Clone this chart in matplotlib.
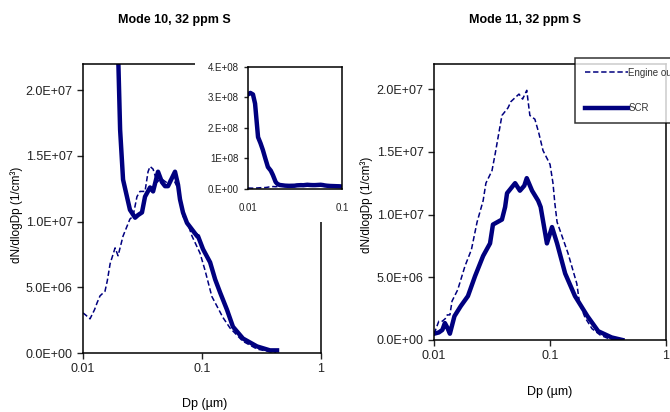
import matplotlib.pyplot as plt
from matplotlib.patches import Rectangle
from matplotlib.ticker import FixedLocator, FixedFormatter, FuncFormatter, NullLocator

plt.rcParams['font.family'] = ['Liberation Sans', 'DejaVu Sans']

# Mode 10 - engine out (dashed)
m10_eng_dp = [0.01, 0.0105, 0.01145, 0.0125, 0.0131, 0.0139, 0.0153, 0.016, 0.0169, 0.0186,
              0.0197, 0.0217, 0.0248, 0.0263, 0.0284, 0.0301, 0.0332, 0.0352, 0.0366, 0.0388,
              0.042, 0.045, 0.05, 0.057, 0.063, 0.0666, 0.0692, 0.0748, 0.0824, 0.0962,
              0.106, 0.121, 0.150, 0.172, 0.22, 0.29, 0.37, 0.42]
m10_eng = [3.05e6, 2.9e6, 2.6e6, 3.3e6, 3.8e6, 4.35e6, 4.7e6, 5.5e6, 6.8e6, 8.0e6,
           7.4e6, 8.9e6, 10.2e6, 10.4e6, 11.9e6, 12.3e6, 12.3e6, 13.8e6, 14.2e6, 14.0e6,
           13.0e6, 13.3e6, 13.0e6, 13.3e6, 12.5e6, 11.5e6, 10.4e6, 10.0e6, 8.9e6, 7.6e6,
           6.3e6, 4.3e6, 2.7e6, 1.9e6, 0.9e6, 0.3e6, 0.1e6, 0.0]

# Mode 10 - SCR (solid), large values at small Dp shown in the inset
m10_scr_dp = [0.01, 0.0106, 0.0113, 0.0119, 0.0128, 0.0136, 0.0144, 0.0153, 0.0163, 0.0175,
              0.0184, 0.0197, 0.0205, 0.0217, 0.0248, 0.0274, 0.029, 0.0313, 0.0332, 0.0366,
              0.0388, 0.0427, 0.0461, 0.0489, 0.0518, 0.0593, 0.0629, 0.0653, 0.0692, 0.0748,
              0.0793, 0.0908, 0.0925, 0.102, 0.117, 0.129, 0.142, 0.162, 0.182, 0.221,
              0.29, 0.373, 0.427]
m10_scr = [3.1e8, 3.15e8, 3.1e8, 2.8e8, 1.7e8, 1.5e8, 1.28e8, 1.0e8, 0.72e8, 0.6e8,
           0.46e8, 2.3e7, 1.7e7, 1.32e7, 1.09e7, 1.03e7, 1.05e7, 1.07e7, 1.19e7, 1.26e7,
           1.23e7, 1.38e7, 1.30e7, 1.27e7, 1.27e7, 1.38e7, 1.28e7, 1.17e7, 1.07e7, 0.99e7,
           0.96e7, 0.89e7, 0.89e7, 0.79e7, 0.69e7, 0.56e7, 0.46e7, 0.33e7, 0.2e7, 0.11e7,
           0.05e7, 0.02e7, 0.02e7]

# Mode 11 - engine out (dashed)
m11_eng_dp = [0.01, 0.0105, 0.011, 0.0118, 0.0125, 0.013, 0.0137, 0.0143, 0.016, 0.0185,
              0.021, 0.0235, 0.0265, 0.028, 0.0316, 0.0336, 0.0385, 0.0434, 0.046, 0.0498,
              0.054, 0.058, 0.063, 0.067, 0.074, 0.08, 0.087, 0.1, 0.106, 0.11,
              0.115, 0.13, 0.143, 0.17, 0.18, 0.2, 0.23, 0.27, 0.32, 0.4]
m11_eng = [0.5e6, 1.0e6, 1.5e6, 1.5e6, 1.7e6, 2.0e6, 2.0e6, 3.1e6, 4.0e6, 5.9e6,
           7.2e6, 9.4e6, 11.1e6, 12.5e6, 13.5e6, 14.8e6, 17.9e6, 18.5e6, 19.0e6, 19.3e6,
           19.6e6, 19.2e6, 19.9e6, 17.9e6, 17.6e6, 16.5e6, 15.1e6, 14.0e6, 12.5e6, 10.9e6,
           9.4e6, 8.0e6, 6.9e6, 4.5e6, 2.9e6, 1.8e6, 0.9e6, 0.4e6, 0.1e6, 0.0]

# Mode 11 - SCR (solid)
m11_scr_dp = [0.01, 0.011, 0.0118, 0.0124, 0.013, 0.0137, 0.015, 0.017, 0.0196, 0.0226,
              0.0265, 0.0304, 0.0322, 0.0385, 0.041, 0.0426, 0.05, 0.055, 0.06, 0.063,
              0.07, 0.079, 0.083, 0.094, 0.104, 0.115, 0.135, 0.164, 0.21, 0.26,
              0.34, 0.42]
m11_scr = [0.5e6, 0.6e6, 0.8e6, 1.35e6, 1.0e6, 0.5e6, 1.9e6, 2.7e6, 3.5e6, 5.1e6,
           6.7e6, 7.7e6, 9.2e6, 9.6e6, 10.6e6, 11.7e6, 12.5e6, 11.9e6, 12.3e6, 12.9e6,
           11.9e6, 11.1e6, 10.6e6, 7.7e6, 9.0e6, 7.7e6, 5.3e6, 3.5e6, 1.9e6, 0.7e6,
           0.2e6, 0.0]

x_ticks = [0.01, 0.1, 1]
x_labels = ['0.01', '0.1', '1']
y_ticks = [0, 5e6, 1e7, 1.5e7, 2e7]
inset_y_ticks = [0, 1e8, 2e8, 3e8, 4e8]
inset_y_labels = ['0.E+00', '1E+08', '2.E+08', '3.E+08', '4.E+08']

navy = '#00007f'
dash = (0, (3.5, 1.8))


def style_axes(ax, fs=9):
    ax.set_xscale('log')
    ax.xaxis.set_minor_locator(NullLocator())
    ax.tick_params(direction='out', length=4, width=1, labelsize=fs, colors='#222222')
    for s in ax.spines.values():
        s.set_linewidth(1.1)
        s.set_color('black')


fig = plt.figure(figsize=(6.7, 4.12), dpi=100)

# left chart (Mode 10)
ax1 = fig.add_axes([0.1239, 0.1432, 0.3552, 0.7015])
ax1.plot(m10_eng_dp, m10_eng, color=navy, lw=1.1, ls=dash)
ax1.plot(m10_scr_dp, m10_scr, color=navy, lw=3.2)
style_axes(ax1)
ax1.set_xlim(0.01, 1)
ax1.set_ylim(0, 2.2e7)
ax1.xaxis.set_major_locator(FixedLocator(x_ticks))
ax1.xaxis.set_major_formatter(FixedFormatter(x_labels))
ax1.yaxis.set_major_locator(FixedLocator(y_ticks))
ax1.yaxis.set_major_formatter(FuncFormatter(lambda v, p: f'{v:.1E}'))

# white chart area behind the inset
fig.patches.append(Rectangle((195 / 670, 1 - 222 / 412), 152 / 670, 165 / 412,
                             transform=fig.transFigure, facecolor='white',
                             edgecolor='none', zorder=1))

# inset
ax_in = fig.add_axes([0.3701, 0.5413, 0.1403, 0.2961])
ax_in.set_zorder(2)
ax_in.plot(m10_eng_dp, m10_eng, color=navy, lw=1.1, ls=dash)
ax_in.plot(m10_scr_dp, m10_scr, color=navy, lw=3.2)
style_axes(ax_in, fs=7)
ax_in.tick_params(length=3)
ax_in.set_xlim(0.01, 0.1)
ax_in.set_ylim(0, 4e8)
ax_in.xaxis.set_major_locator(FixedLocator([0.01, 0.1]))
ax_in.xaxis.set_major_formatter(FixedFormatter(['0.01', '0.1']))
ax_in.yaxis.set_major_locator(FixedLocator(inset_y_ticks))
ax_in.yaxis.set_major_formatter(FixedFormatter(inset_y_labels))
ax_in.tick_params(axis='x', length=0, pad=10)

# right chart (Mode 11)
ax2 = fig.add_axes([0.6478, 0.1748, 0.3463, 0.6699])
ax2.plot(m11_eng_dp, m11_eng, color=navy, lw=1.1, ls=dash, label='Engine out')
ax2.plot(m11_scr_dp, m11_scr, color=navy, lw=3.2, label='SCR')
style_axes(ax2)
ax2.set_xlim(0.01, 1)
ax2.set_ylim(0, 2.2e7)
ax2.xaxis.set_major_locator(FixedLocator(x_ticks))
ax2.xaxis.set_major_formatter(FixedFormatter(x_labels))
ax2.yaxis.set_major_locator(FixedLocator(y_ticks))
ax2.yaxis.set_major_formatter(FuncFormatter(lambda v, p: f'{v:.1E}'))

leg = fig.legend(loc='upper left', bbox_to_anchor=(575 / 670, 1 - 58 / 412),
                 fontsize=7, frameon=True, fancybox=False, handlelength=4.4,
                 handletextpad=0.1, labelspacing=2.6, borderpad=1.0,
                 borderaxespad=0)
leg.get_frame().set_edgecolor('black')
leg.get_frame().set_linewidth(1.1)
leg.set_zorder(5)
for t in leg.get_texts():
    t.set_color('#333333')

# titles and axis labels
fig.text(174 / 670, 1 - 20 / 412, 'Mode 10, 32 ppm S', ha='center', va='center',
         fontsize=9, fontweight='bold')
fig.text(525 / 670, 1 - 20 / 412, 'Mode 11, 32 ppm S', ha='center', va='center',
         fontsize=9, fontweight='bold')
fig.text(17 / 670, 1 - 215 / 412, 'dN/dlogDp (1/cm³)', rotation=90, ha='center',
         va='center', fontsize=8.5)
fig.text(367 / 670, 1 - 205 / 412, 'dN/dlogDp (1/cm³)', rotation=90, ha='center',
         va='center', fontsize=8.5)
fig.text(205 / 670, 1 - 404 / 412, 'Dp (µm)', ha='center', va='center', fontsize=9)
fig.text(550 / 670, 1 - 392 / 412, 'Dp (µm)', ha='center', va='center', fontsize=9)

plt.savefig('out.png', dpi=100)
